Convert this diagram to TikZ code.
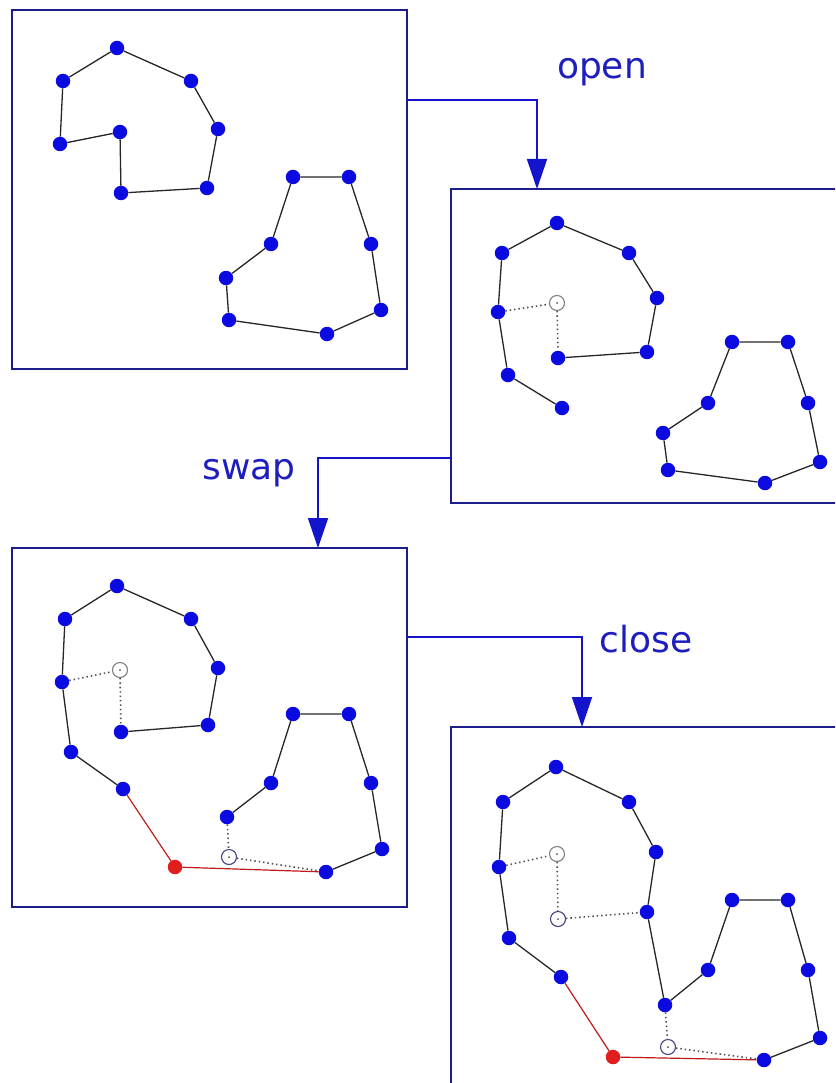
\documentclass[tikz,border=0pt]{standalone}
\usepackage{fontspec}
\newfontfamily\labelfont{DejaVu Sans}
\usetikzlibrary{arrows.meta}
\definecolor{framecol}{RGB}{28,28,140}
\definecolor{flowcol}{RGB}{20,20,205}
\definecolor{dotcol}{RGB}{10,10,225}
\definecolor{cutcol}{RGB}{225,30,30}
\definecolor{textcol}{RGB}{30,30,190}
\begin{document}
\begin{tikzpicture}[x=1pt, y=-1pt,
    frame/.style={draw=framecol, line width=2.2pt, inner sep=0pt, outer sep=0pt},
    flow/.style={draw=flowcol, line width=1.8pt, -{Triangle[length=30pt,width=20pt]}},
    pt/.style={circle, fill=dotcol, minimum size=14.5pt, inner sep=0pt},
    cutpt/.style={pt, fill=cutcol},
    hole/.style={circle, draw=gray, fill=white, line width=1.1pt, minimum size=15pt, inner sep=0pt,
                 path picture={\fill[gray!60!black] (path picture bounding box.center) circle (1pt);}},
    darkhole/.style={hole, draw=framecol!60!gray},
    link/.style={black!85, line width=1.3pt},
    gap/.style={gray!60!black, line width=1.6pt, dash pattern=on 1.4pt off 3pt},
    cut/.style={cutcol!85!black, line width=1.2pt},
    lbl/.style={text=textcol, font=\labelfont\fontsize{36}{40}\selectfont, anchor=base}]
  \useasboundingbox (0,0) rectangle (835,1083);
  \clip (0,0) rectangle (835,1083);

  % the four stages
  \node[frame, minimum width=395pt, minimum height=359pt] (fr1) at (209.5,189.5) {};
  \node[frame, minimum width=409pt, minimum height=314pt] (fr2) at (655.5,346) {};
  \node[frame, minimum width=395pt, minimum height=359pt] (fr3) at (209.5,727.5) {};
  \node[frame, minimum width=409pt, minimum height=393pt] (fr4) at (655.5,923.5) {};

  % stage 1: two closed loops
  \foreach \n/\x/\y in {a1/117/48, b1/63/81, c1/191/81, d1/218/129, e1/120/132, f1/60/144,
                        g1/121/193, h1/207/188, m1/293/177, n1/349/177, q1/271/244, r1/371/244,
                        s1/226/278, t1/381/310, u1/229/320, v1/327/334}
    \node[pt] (\n) at (\x,\y) {};
  \draw[link] (f1) -- (b1) -- (a1) -- (c1) -- (d1) -- (h1) -- (g1) -- (e1) -- (f1);
  \draw[link] (m1) -- (n1) -- (r1) -- (t1) -- (v1) -- (u1) -- (s1) -- (q1) -- (m1);

  % stage 2: first loop opened
  \foreach \n/\x/\y in {a2/557/223, b2/502/253, c2/629/253, d2/657/298, e2/498/312, f2/558/358,
                        g2/647/352, h2/508/375, i2/562/408, m2/732/342, n2/788/342, q2/708/403,
                        r2/808/403, s2/663/433, t2/820/462, u2/668/470, v2/765/483}
    \node[pt] (\n) at (\x,\y) {};
  \node[hole] (o2) at (557,303) {};
  \draw[link] (i2) -- (h2) -- (e2) -- (b2) -- (a2) -- (c2) -- (d2) -- (g2) -- (f2);
  \draw[gap] (e2) -- (o2) -- (f2);
  \draw[link] (m2) -- (n2) -- (r2) -- (t2) -- (v2) -- (u2) -- (s2) -- (q2) -- (m2);

  % stage 3: swap
  \foreach \n/\x/\y in {a3/117/586, b3/65/619, c3/191/619, d3/218/668, e3/62/682, f3/121/732,
                        g3/208/725, h3/71/752, i3/123/789, m3/293/714, n3/349/714, q3/271/783,
                        r3/371/783, s3/227/817, t3/382/849, v3/326/872}
    \node[pt] (\n) at (\x,\y) {};
  \node[cutpt] (x3) at (175,867) {};
  \node[hole] (o3) at (120,670) {};
  \node[darkhole] (w3) at (229,857) {};
  \draw[link] (i3) -- (h3) -- (e3) -- (b3) -- (a3) -- (c3) -- (d3) -- (g3) -- (f3);
  \draw[link] (s3) -- (q3) -- (m3) -- (n3) -- (r3) -- (t3) -- (v3);
  \draw[cut] (i3) -- (x3) -- (v3);
  \draw[gap] (e3) -- (o3) -- (f3);
  \draw[gap] (s3) -- (w3) -- (v3);

  % stage 4: closed into one loop
  \foreach \n/\x/\y in {a4/556/767, b4/503/802, c4/629/802, d4/656/852, e4/499/867, g4/647/912,
                        h4/509/938, i4/561/977, m4/732/900, n4/788/900, q4/708/970, r4/808/970,
                        s4/665/1005, t4/820/1038, v4/764/1060}
    \node[pt] (\n) at (\x,\y) {};
  \node[cutpt] (x4) at (613,1057) {};
  \node[hole] (o4) at (557,854) {};
  \node[darkhole] (f4) at (558,919) {};
  \node[darkhole] (w4) at (668,1047) {};
  \draw[link] (i4) -- (h4) -- (e4) -- (b4) -- (a4) -- (c4) -- (d4) -- (g4) -- (s4) -- (q4) -- (m4)
              -- (n4) -- (r4) -- (t4) -- (v4);
  \draw[cut] (v4) -- (x4) -- (i4);
  \draw[gap] (e4) -- (o4) -- (f4) -- (g4);
  \draw[gap] (s4) -- (w4) -- (v4);

  % steps between stages
  \coordinate (k1) at (537,100);
  \coordinate (k2) at (318,458);
  \coordinate (k3) at (582,637);
  \draw[flow] (fr1.east |- k1) -- (k1) -- (k1 |- fr2.north);
  \draw[flow] (fr2.west |- k2) -- (k2) -- (k2 |- fr3.north);
  \draw[flow] (fr3.east |- k3) -- (k3) -- (k3 |- fr4.north);
  \node[lbl] (lopen) at (602,79) {open};
  \node[lbl] (lswap) at (249,479) {swap};
  \node[lbl] (lclose) at (646,652) {close};
\end{tikzpicture}
\end{document}
